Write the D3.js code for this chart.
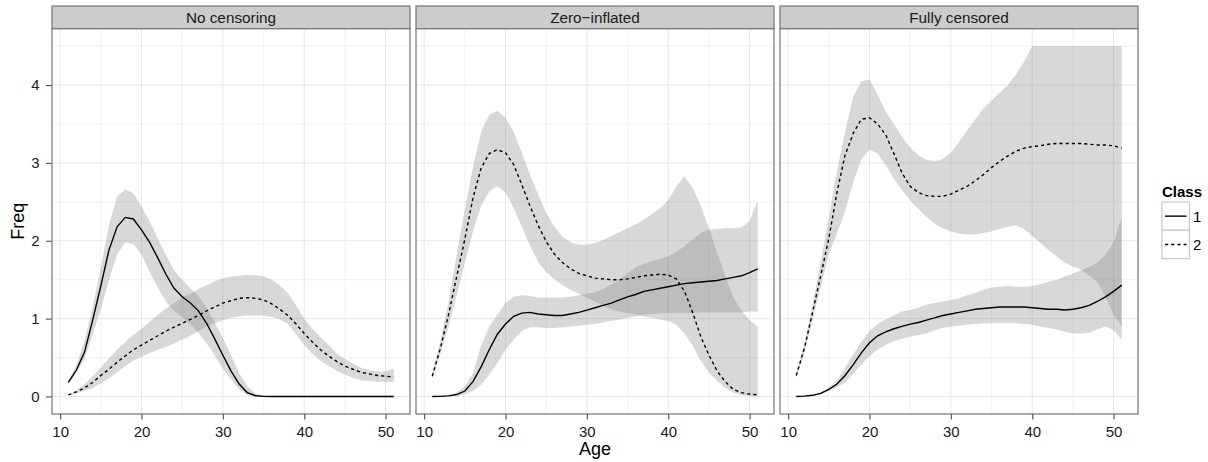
<!DOCTYPE html>
<html>
<head>
<meta charset="utf-8">
<script src="https://cdn.jsdelivr.net/npm/d3@7"></script>
<style>
  html, body { margin: 0; padding: 0; background: #ffffff; }
  svg { display: block; font-family: "Liberation Sans", Arial, Helvetica, sans-serif; }
</style>
</head>
<body>
<svg id="chart" width="1208" height="462"></svg>
<script>
// Ages at which the fitted class curves are evaluated
const ages = d3.range(11, 52);

const panelTitles = ["No censoring", "Zero\u2212inflated", "Fully censored"];
const classLabels = ["1", "2"];
const xTickValues = [10, 20, 30, 40, 50];
const yTickValues = [0, 1, 2, 3, 4];

// No censoring
const noCens1    = [0.18,0.34,0.57,0.98,1.42,1.88,2.18,2.30,2.28,2.14,1.98,1.78,1.57,1.39,1.28,1.20,1.10,0.94,0.74,0.53,0.33,0.16,0.05,0.01,0.002,0,0,0,0,0,0,0,0,0,0,0,0,0,0,0,0];
const noCens1Lo  = [0.15,0.30,0.48,0.80,1.12,1.50,1.82,1.98,1.96,1.82,1.60,1.40,1.22,1.10,1.02,0.93,0.82,0.68,0.53,0.36,0.22,0.09,0.02,0.003,0,0,0,0,0,0,0,0,0,0,0,0,0,0,0,0,0];
const noCens1Hi  = [0.20,0.40,0.72,1.15,1.65,2.20,2.57,2.66,2.61,2.44,2.25,2.03,1.82,1.62,1.50,1.39,1.29,1.14,0.95,0.75,0.53,0.30,0.13,0.04,0.01,0,0,0,0,0,0,0,0,0,0,0,0,0,0,0,0];
const noCens2    = [0.02,0.06,0.11,0.18,0.27,0.35,0.44,0.52,0.60,0.66,0.72,0.78,0.84,0.89,0.94,0.99,1.04,1.10,1.15,1.20,1.23,1.26,1.27,1.26,1.24,1.19,1.12,1.04,0.93,0.81,0.70,0.60,0.52,0.45,0.39,0.35,0.31,0.29,0.27,0.26,0.25];
const noCens2Lo  = [0.015,0.04,0.07,0.11,0.17,0.23,0.31,0.39,0.46,0.51,0.56,0.60,0.64,0.68,0.73,0.78,0.84,0.90,0.94,0.98,1.01,1.03,1.04,1.04,1.04,1.02,0.99,0.93,0.80,0.66,0.55,0.46,0.39,0.33,0.28,0.24,0.21,0.20,0.19,0.19,0.19];
const noCens2Hi  = [0.025,0.08,0.16,0.26,0.37,0.49,0.60,0.70,0.79,0.87,0.96,1.05,1.13,1.20,1.27,1.32,1.38,1.43,1.48,1.52,1.54,1.55,1.56,1.56,1.54,1.50,1.43,1.33,1.17,1.00,0.87,0.76,0.66,0.55,0.48,0.42,0.37,0.34,0.32,0.32,0.36];

// Zero-inflated
const zeroInf1   = [0,0.002,0.008,0.025,0.07,0.19,0.38,0.60,0.80,0.93,1.03,1.07,1.08,1.06,1.05,1.04,1.04,1.06,1.08,1.11,1.14,1.17,1.20,1.24,1.28,1.31,1.35,1.37,1.39,1.41,1.43,1.45,1.46,1.47,1.48,1.49,1.51,1.53,1.55,1.59,1.64];
const zeroInf1Lo = [0,0,0.003,0.01,0.03,0.07,0.15,0.28,0.43,0.60,0.73,0.84,0.89,0.89,0.88,0.88,0.89,0.90,0.91,0.92,0.93,0.95,0.97,0.99,1.01,1.03,1.05,1.06,1.07,1.07,1.07,1.07,1.07,1.08,1.08,1.08,1.08,1.08,1.08,1.09,1.09];
const zeroInf1Hi = [0,0.005,0.015,0.05,0.13,0.30,0.65,0.90,1.05,1.20,1.28,1.30,1.29,1.27,1.27,1.27,1.27,1.28,1.30,1.32,1.34,1.38,1.44,1.50,1.58,1.66,1.70,1.74,1.77,1.80,1.86,1.93,2.02,2.10,2.14,2.15,2.16,2.16,2.17,2.25,2.52];
const zeroInf2   = [0.26,0.62,1.05,1.54,2.02,2.55,2.93,3.12,3.17,3.13,2.98,2.72,2.45,2.20,1.99,1.83,1.72,1.64,1.58,1.55,1.52,1.51,1.50,1.50,1.51,1.53,1.55,1.56,1.57,1.56,1.51,1.35,1.08,0.77,0.53,0.33,0.19,0.09,0.05,0.03,0.02];
const zeroInf2Lo = [0.23,0.55,0.90,1.30,1.72,2.12,2.45,2.63,2.70,2.62,2.42,2.18,1.94,1.73,1.60,1.51,1.43,1.37,1.32,1.27,1.22,1.17,1.12,1.09,1.07,1.05,1.03,1.01,0.99,0.97,0.92,0.81,0.65,0.46,0.31,0.20,0.11,0.05,0.02,0.005,0];
const zeroInf2Hi = [0.30,0.72,1.22,1.82,2.40,2.95,3.40,3.62,3.67,3.58,3.40,3.13,2.85,2.60,2.36,2.18,2.05,1.98,1.95,1.95,1.97,2.01,2.06,2.11,2.16,2.21,2.27,2.34,2.42,2.52,2.70,2.83,2.68,2.45,2.16,1.85,1.55,1.27,1.10,0.98,0.90];

// Fully censored
const fullCens1   = [0,0.005,0.015,0.04,0.09,0.16,0.27,0.41,0.56,0.69,0.78,0.83,0.87,0.90,0.93,0.95,0.98,1.01,1.04,1.06,1.08,1.10,1.12,1.13,1.14,1.15,1.15,1.15,1.15,1.14,1.13,1.12,1.12,1.11,1.12,1.14,1.17,1.22,1.28,1.35,1.43];
const fullCens1Lo = [0,0.003,0.01,0.03,0.07,0.12,0.18,0.29,0.41,0.52,0.60,0.66,0.71,0.74,0.77,0.79,0.81,0.85,0.88,0.90,0.91,0.92,0.93,0.94,0.94,0.94,0.94,0.94,0.93,0.92,0.90,0.88,0.86,0.83,0.81,0.81,0.82,0.86,0.90,0.85,0.73];
const fullCens1Hi = [0,0.006,0.02,0.05,0.12,0.21,0.37,0.54,0.70,0.84,0.93,0.99,1.04,1.09,1.11,1.14,1.18,1.20,1.22,1.24,1.26,1.30,1.33,1.37,1.40,1.41,1.42,1.41,1.41,1.42,1.44,1.47,1.50,1.54,1.58,1.62,1.66,1.72,1.82,1.98,2.30];
const fullCens2   = [0.27,0.62,1.08,1.55,2.03,2.62,3.10,3.38,3.56,3.58,3.50,3.36,3.12,2.87,2.70,2.62,2.58,2.57,2.57,2.60,2.65,2.70,2.77,2.85,2.94,3.02,3.09,3.15,3.19,3.21,3.22,3.24,3.25,3.25,3.25,3.25,3.24,3.23,3.23,3.22,3.19];
const fullCens2Lo = [0.24,0.56,0.98,1.40,1.82,2.10,2.38,2.75,3.05,3.17,3.12,2.97,2.80,2.65,2.52,2.41,2.31,2.22,2.16,2.12,2.09,2.08,2.08,2.10,2.12,2.15,2.18,2.20,2.15,2.06,1.97,1.88,1.80,1.72,1.67,1.63,1.55,1.47,1.28,1.05,0.90];
const fullCens2Hi = [0.30,0.68,1.18,1.72,2.30,2.90,3.40,3.85,4.05,4.07,3.88,3.66,3.50,3.33,3.20,3.10,3.04,3.02,3.05,3.13,3.27,3.42,3.56,3.70,3.80,3.90,4.00,4.14,4.30,4.50,4.50,4.50,4.50,4.50,4.50,4.50,4.50,4.50,4.50,4.50,4.50];

const panels = [
  { title: panelTitles[0], series: [
    { fit: noCens1, lo: noCens1Lo, hi: noCens1Hi },
    { fit: noCens2, lo: noCens2Lo, hi: noCens2Hi } ] },
  { title: panelTitles[1], series: [
    { fit: zeroInf1, lo: zeroInf1Lo, hi: zeroInf1Hi },
    { fit: zeroInf2, lo: zeroInf2Lo, hi: zeroInf2Hi } ] },
  { title: panelTitles[2], series: [
    { fit: fullCens1, lo: fullCens1Lo, hi: fullCens1Hi },
    { fit: fullCens2, lo: fullCens2Lo, hi: fullCens2Hi } ] }
];

// Layout
const panelLeft = [52, 416, 780];
const panelWidth = 358;
const stripTop = 6, stripH = 22.6;
const plotTop = stripTop + stripH, plotBottom = 414;
const borderCol = "#7f7f7f";
const dashes = ["none", "3.2,3"];

const svg = d3.select("#chart");

const y = d3.scaleLinear().domain([-0.225, 4.725]).range([plotBottom, plotTop]);

panels.forEach((p, i) => {
  const x0 = panelLeft[i];
  const x = d3.scaleLinear().domain([9, 53]).range([x0, x0 + panelWidth]);
  const g = svg.append("g");
  const clipId = "clip" + i;
  svg.append("clipPath").attr("id", clipId)
    .append("rect").attr("x", x0).attr("y", plotTop).attr("width", panelWidth).attr("height", plotBottom - plotTop);

  // panel background and grid
  g.append("rect").attr("x", x0).attr("y", plotTop).attr("width", panelWidth)
    .attr("height", plotBottom - plotTop).attr("fill", "#ffffff");
  const grid = g.append("g");
  const minorX = [15, 25, 35, 45];
  const minorY = [0.5, 1.5, 2.5, 3.5, 4.5];
  grid.selectAll(".mx").data(minorX).join("line")
    .attr("x1", d => x(d)).attr("x2", d => x(d)).attr("y1", plotTop).attr("y2", plotBottom)
    .attr("stroke", "#f4f4f4").attr("stroke-width", 1.2);
  grid.selectAll(".my").data(minorY).join("line")
    .attr("y1", d => y(d)).attr("y2", d => y(d)).attr("x1", x0).attr("x2", x0 + panelWidth)
    .attr("stroke", "#f4f4f4").attr("stroke-width", 1.2);
  grid.selectAll(".gx").data(xTickValues).join("line")
    .attr("x1", d => x(d)).attr("x2", d => x(d)).attr("y1", plotTop).attr("y2", plotBottom)
    .attr("stroke", "#e5e5e5").attr("stroke-width", 0.9);
  grid.selectAll(".gy").data(yTickValues).join("line")
    .attr("y1", d => y(d)).attr("y2", d => y(d)).attr("x1", x0).attr("x2", x0 + panelWidth)
    .attr("stroke", "#e5e5e5").attr("stroke-width", 0.9);

  const marks = g.append("g").attr("clip-path", `url(#${clipId})`);

  // confidence ribbons
  p.series.forEach(s => {
    const area = d3.area()
      .x((d, k) => x(ages[k]))
      .y0((d, k) => y(s.lo[k]))
      .y1((d, k) => y(s.hi[k]));
    marks.append("path").datum(s.fit).attr("d", area)
      .attr("fill", "#7f7f7f").attr("fill-opacity", 0.3);
  });

  // fitted curves
  p.series.forEach((s, c) => {
    const line = d3.line().x((d, k) => x(ages[k])).y(d => y(d));
    marks.append("path").datum(s.fit).attr("d", line)
      .attr("fill", "none").attr("stroke", "#000000").attr("stroke-width", 1.4)
      .attr("stroke-dasharray", dashes[c]);
  });

  // panel border
  g.append("rect").attr("x", x0).attr("y", plotTop).attr("width", panelWidth)
    .attr("height", plotBottom - plotTop).attr("fill", "none")
    .attr("stroke", borderCol).attr("stroke-width", 1.3);

  // strip
  g.append("rect").attr("x", x0).attr("y", stripTop).attr("width", panelWidth).attr("height", stripH)
    .attr("fill", "#cccccc").attr("stroke", borderCol).attr("stroke-width", 1.3);
  g.append("text").attr("x", x0 + panelWidth / 2).attr("y", stripTop + stripH / 2 + 5.6)
    .attr("text-anchor", "middle").style("font-size", "15.3px").attr("fill", "#1a1a1a").text(p.title);

  // x axis
  const xAxis = d3.axisBottom(x).tickValues(xTickValues).tickSize(5.5).tickPadding(7).tickFormat(d3.format("d"));
  const ax = svg.append("g").attr("transform", `translate(0,${plotBottom})`).call(xAxis);
  ax.attr("font-family", null).attr("font-size", null);
  ax.select(".domain").remove();
  ax.selectAll(".tick line").attr("stroke", "#4d4d4d").attr("stroke-width", 1.1);
  ax.selectAll(".tick text").style("font-size", "15px").attr("fill", "#1a1a1a");

  if (i === 0) {
    const yAxis = d3.axisLeft(y).tickValues(yTickValues).tickSize(5.5).tickPadding(6.5).tickFormat(d3.format("d"));
    const ay = svg.append("g").attr("transform", `translate(${x0 - 0.5},0)`).call(yAxis);
    ay.attr("font-family", null).attr("font-size", null);
    ay.select(".domain").remove();
    ay.selectAll(".tick line").attr("stroke", "#4d4d4d").attr("stroke-width", 1.1);
    ay.selectAll(".tick text").style("font-size", "15px").attr("fill", "#1a1a1a");
  }
});

// axis titles
svg.append("text").attr("x", (panelLeft[0] + panelLeft[2] + panelWidth) / 2).attr("y", 455)
  .attr("text-anchor", "middle").style("font-size", "18px").attr("fill", "#000").text("Age");
svg.append("text").attr("transform", `translate(24,${(plotTop + plotBottom) / 2}) rotate(-90)`)
  .attr("text-anchor", "middle").style("font-size", "18px").attr("fill", "#000").text("Freq");

// legend
const leg = svg.append("g").attr("transform", "translate(1162,186)");
leg.append("text").attr("x", 0).attr("y", 10.6).style("font-size", "15px").attr("font-weight", "bold")
  .attr("fill", "#000").text("Class");
classLabels.forEach((lab, c) => {
  const ky = 16 + c * 28.3;
  leg.append("rect").attr("x", 0).attr("y", ky).attr("width", 27.5).attr("height", 28.3)
    .attr("fill", "#ffffff").attr("stroke", "#cccccc").attr("stroke-width", 1.3);
  leg.append("line").attr("x1", 3).attr("x2", 24.5).attr("y1", ky + 14.15).attr("y2", ky + 14.15)
    .attr("stroke", "#000").attr("stroke-width", 1.4).attr("stroke-dasharray", dashes[c]);
  leg.append("text").attr("x", 31).attr("y", ky + 20).style("font-size", "15px").attr("fill", "#000").text(lab);
});
</script>
</body>
</html>
